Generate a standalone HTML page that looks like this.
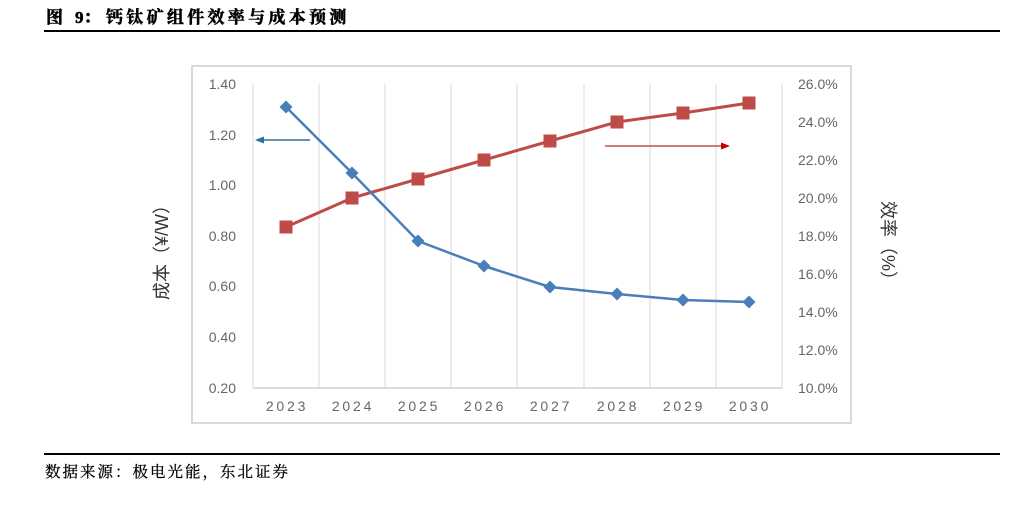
<!DOCTYPE html>
<html>
<head>
<meta charset="utf-8">
<style>
  html,body{margin:0;padding:0;background:#fff;}
  body{width:1024px;height:513px;overflow:hidden;}
  svg{display:block;}
</style>
</head>
<body>
<svg width="1024" height="513" viewBox="0 0 1024 513" xmlns="http://www.w3.org/2000/svg">
  <!-- Title -->
  <g font-family="'Liberation Serif','Noto Serif CJK SC',serif" font-weight="bold" font-size="17" fill="#000" stroke="#000" stroke-width="0.5">
    <text x="46" y="23">图</text>
    <text x="75" y="23">9：</text>
    <text x="106" y="23" letter-spacing="3.3">钙钛矿组件效率与成本预测</text>
  </g>
  <rect x="44" y="30" width="956" height="2" fill="#000"/>

  <!-- Chart border -->
  <rect x="192" y="66" width="659" height="357" fill="#fff" stroke="#d9d9d9" stroke-width="2"/>

  <!-- vertical gridlines -->
  <g stroke="#d9d9d9" stroke-width="1">
    <line x1="253" y1="84" x2="253" y2="388"/>
    <line x1="319" y1="84" x2="319" y2="388"/>
    <line x1="385" y1="84" x2="385" y2="388"/>
    <line x1="451" y1="84" x2="451" y2="388"/>
    <line x1="517" y1="84" x2="517" y2="388"/>
    <line x1="584" y1="84" x2="584" y2="388"/>
    <line x1="650" y1="84" x2="650" y2="388"/>
    <line x1="716" y1="84" x2="716" y2="388"/>
    <line x1="782" y1="84" x2="782" y2="388"/>
  </g>
  <line x1="253" y1="388" x2="782" y2="388" stroke="#d0d0d0" stroke-width="1.5"/>

  <!-- Left tick labels -->
  <g font-family="'Liberation Sans',sans-serif" font-size="14" fill="#666" text-anchor="end">
    <text x="236" y="89">1.40</text>
    <text x="236" y="140">1.20</text>
    <text x="236" y="190">1.00</text>
    <text x="236" y="241">0.80</text>
    <text x="236" y="291">0.60</text>
    <text x="236" y="342">0.40</text>
    <text x="236" y="393">0.20</text>
  </g>

  <!-- Right tick labels -->
  <g font-family="'Liberation Sans',sans-serif" font-size="14" fill="#666">
    <text x="798" y="89">26.0%</text>
    <text x="798" y="127">24.0%</text>
    <text x="798" y="165">22.0%</text>
    <text x="798" y="203">20.0%</text>
    <text x="798" y="241">18.0%</text>
    <text x="798" y="279">16.0%</text>
    <text x="798" y="317">14.0%</text>
    <text x="798" y="355">12.0%</text>
    <text x="798" y="393">10.0%</text>
  </g>

  <!-- X labels -->
  <g font-family="'Liberation Sans',sans-serif" font-size="14" fill="#666" text-anchor="middle" letter-spacing="2.8">
    <text x="287" y="411">2023</text>
    <text x="353" y="411">2024</text>
    <text x="419" y="411">2025</text>
    <text x="485" y="411">2026</text>
    <text x="551" y="411">2027</text>
    <text x="618" y="411">2028</text>
    <text x="684" y="411">2029</text>
    <text x="750" y="411">2030</text>
  </g>

  <!-- Axis titles -->
  <text transform="translate(168,248) rotate(-90)" text-anchor="middle" font-family="'Liberation Sans','Noto Sans CJK SC',sans-serif" font-size="18" fill="#333">成本（¥/W）</text>
  <text transform="translate(882,245) rotate(90)" text-anchor="middle" font-family="'Liberation Sans','Noto Sans CJK SC',sans-serif" font-size="18" fill="#333">效率（%）</text>

  <!-- Red series (efficiency) -->
  <polyline fill="none" stroke="#be4b48" stroke-width="3" stroke-linejoin="round" points="286,227 352,198 418,179 484,160 550,141 617,122 683,113 749,103"/>
  <g fill="#be4b48">
    <rect x="279.5" y="220.5" width="13" height="13"/>
    <rect x="345.5" y="191.5" width="13" height="13"/>
    <rect x="411.5" y="172.5" width="13" height="13"/>
    <rect x="477.5" y="153.5" width="13" height="13"/>
    <rect x="543.5" y="134.5" width="13" height="13"/>
    <rect x="610.5" y="115.5" width="13" height="13"/>
    <rect x="676.5" y="106.5" width="13" height="13"/>
    <rect x="742.5" y="96.5" width="13" height="13"/>
  </g>

  <!-- Blue series (cost) -->
  <polyline fill="none" stroke="#4a7ebb" stroke-width="2.5" stroke-linejoin="round" points="286,107 352,173 418,241 484,266 550,287 617,294 683,300 749,302"/>
  <g fill="#4a7ebb">
    <polygon points="286,100.5 292.5,107 286,113.5 279.5,107"/>
    <polygon points="352,166.5 358.5,173 352,179.5 345.5,173"/>
    <polygon points="418,234.5 424.5,241 418,247.5 411.5,241"/>
    <polygon points="484,259.5 490.5,266 484,272.5 477.5,266"/>
    <polygon points="550,280.5 556.5,287 550,293.5 543.5,287"/>
    <polygon points="617,287.5 623.5,294 617,300.5 610.5,294"/>
    <polygon points="683,293.5 689.5,300 683,306.5 676.5,300"/>
    <polygon points="749,295.5 755.5,302 749,308.5 742.5,302"/>
  </g>

  <!-- Arrows -->
  <line x1="310" y1="140" x2="262" y2="140" stroke="#2e6f9e" stroke-width="1.5"/>
  <polygon points="255,140 264,136.5 264,143.5" fill="#2e6f9e"/>
  <line x1="605" y1="146" x2="722" y2="146" stroke="#c0504d" stroke-width="1.5"/>
  <polygon points="730,146 721,142.5 721,149.5" fill="#c00000"/>

  <!-- Source -->
  <rect x="44" y="453" width="956" height="2" fill="#000"/>
  <text x="45" y="477" font-family="'Liberation Serif','Noto Serif CJK SC',serif" font-size="15.5" letter-spacing="2" fill="#000" stroke="#000" stroke-width="0.25">数据来源：极电光能，东北证券</text>
</svg>
</body>
</html>
